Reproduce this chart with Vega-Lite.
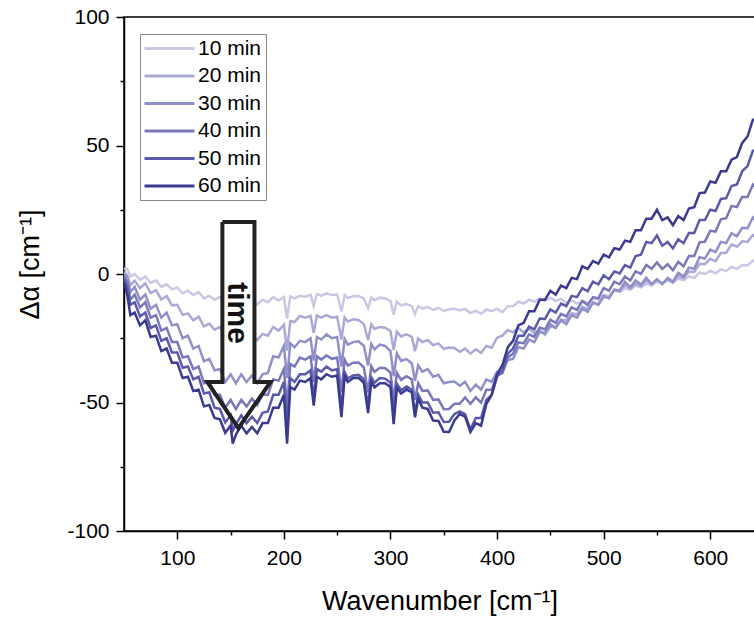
{
  "$schema": "https://vega.github.io/schema/vega-lite/v6.json",
  "width": 631,
  "height": 514,
  "autosize": {"type": "none"},
  "padding": {"left": 124, "top": 17, "right": 0, "bottom": 86},
  "background": "white",
  "config": {
    "view": {"stroke": "black", "strokeWidth": 1.5},
    "font": "Liberation Sans"
  },
  "datasets": {
    "spectra": [
{"t":"10 min","x":50,"y":2},{"t":"10 min","x":53,"y":2},{"t":"10 min","x":56,"y":-1},{"t":"10 min","x":60,"y":0},{"t":"10 min","x":65,"y":-2.2},{"t":"10 min","x":70,"y":-1},{"t":"10 min","x":75,"y":-3.5},{"t":"10 min","x":80,"y":-2.5},{"t":"10 min","x":85,"y":-5},{"t":"10 min","x":90,"y":-4},{"t":"10 min","x":95,"y":-6},{"t":"10 min","x":100,"y":-5.2},{"t":"10 min","x":105,"y":-7.5},{"t":"10 min","x":110,"y":-6.5},{"t":"10 min","x":115,"y":-8.2},{"t":"10 min","x":120,"y":-7},{"t":"10 min","x":125,"y":-9.5},{"t":"10 min","x":130,"y":-8.5},{"t":"10 min","x":135,"y":-10},{"t":"10 min","x":140,"y":-9},{"t":"10 min","x":145,"y":-11.5},{"t":"10 min","x":150,"y":-10},{"t":"10 min","x":155,"y":-11.8},{"t":"10 min","x":160,"y":-10},{"t":"10 min","x":165,"y":-11.5},{"t":"10 min","x":170,"y":-10.2},{"t":"10 min","x":175,"y":-11.8},{"t":"10 min","x":180,"y":-10},{"t":"10 min","x":185,"y":-11},{"t":"10 min","x":190,"y":-9},{"t":"10 min","x":195,"y":-10.3},{"t":"10 min","x":200,"y":-9},{"t":"10 min","x":203,"y":-17.3},{"t":"10 min","x":206,"y":-8.7},{"t":"10 min","x":210,"y":-9.5},{"t":"10 min","x":215,"y":-8.5},{"t":"10 min","x":220,"y":-8.8},{"t":"10 min","x":225,"y":-8},{"t":"10 min","x":228,"y":-12.4},{"t":"10 min","x":231,"y":-7.8},{"t":"10 min","x":235,"y":-8.5},{"t":"10 min","x":240,"y":-7.5},{"t":"10 min","x":245,"y":-8.2},{"t":"10 min","x":250,"y":-8},{"t":"10 min","x":254,"y":-14.6},{"t":"10 min","x":257,"y":-8.2},{"t":"10 min","x":260,"y":-9.3},{"t":"10 min","x":265,"y":-8.7},{"t":"10 min","x":270,"y":-8.6},{"t":"10 min","x":275,"y":-9.5},{"t":"10 min","x":279,"y":-13.3},{"t":"10 min","x":282,"y":-9.1},{"t":"10 min","x":285,"y":-10.2},{"t":"10 min","x":290,"y":-9.2},{"t":"10 min","x":295,"y":-9.5},{"t":"10 min","x":300,"y":-10.5},{"t":"10 min","x":303,"y":-15.8},{"t":"10 min","x":306,"y":-10.7},{"t":"10 min","x":310,"y":-12.2},{"t":"10 min","x":315,"y":-11.7},{"t":"10 min","x":320,"y":-12.5},{"t":"10 min","x":323,"y":-15.6},{"t":"10 min","x":326,"y":-12.5},{"t":"10 min","x":330,"y":-13.5},{"t":"10 min","x":335,"y":-12.8},{"t":"10 min","x":340,"y":-14},{"t":"10 min","x":345,"y":-13.2},{"t":"10 min","x":350,"y":-14.4},{"t":"10 min","x":355,"y":-13.7},{"t":"10 min","x":360,"y":-13.5},{"t":"10 min","x":365,"y":-14.2},{"t":"10 min","x":370,"y":-13.5},{"t":"10 min","x":375,"y":-15.2},{"t":"10 min","x":380,"y":-14.3},{"t":"10 min","x":385,"y":-15.5},{"t":"10 min","x":390,"y":-13.8},{"t":"10 min","x":395,"y":-14.5},{"t":"10 min","x":400,"y":-13.5},{"t":"10 min","x":405,"y":-14.8},{"t":"10 min","x":410,"y":-12.5},{"t":"10 min","x":415,"y":-12.5},{"t":"10 min","x":420,"y":-10.8},{"t":"10 min","x":425,"y":-11.5},{"t":"10 min","x":430,"y":-10},{"t":"10 min","x":435,"y":-10.8},{"t":"10 min","x":440,"y":-9.5},{"t":"10 min","x":445,"y":-10.5},{"t":"10 min","x":450,"y":-9.2},{"t":"10 min","x":455,"y":-10.5},{"t":"10 min","x":460,"y":-9.7},{"t":"10 min","x":465,"y":-11.2},{"t":"10 min","x":470,"y":-10.3},{"t":"10 min","x":475,"y":-11.5},{"t":"10 min","x":480,"y":-10.5},{"t":"10 min","x":485,"y":-11.3},{"t":"10 min","x":490,"y":-9.5},{"t":"10 min","x":495,"y":-10},{"t":"10 min","x":500,"y":-8.2},{"t":"10 min","x":505,"y":-8.5},{"t":"10 min","x":510,"y":-6.5},{"t":"10 min","x":515,"y":-7},{"t":"10 min","x":520,"y":-5.5},{"t":"10 min","x":525,"y":-6.2},{"t":"10 min","x":530,"y":-4.5},{"t":"10 min","x":535,"y":-5.2},{"t":"10 min","x":540,"y":-3.8},{"t":"10 min","x":545,"y":-4.5},{"t":"10 min","x":550,"y":-3},{"t":"10 min","x":555,"y":-3.5},{"t":"10 min","x":560,"y":-2.5},{"t":"10 min","x":565,"y":-3.5},{"t":"10 min","x":570,"y":-1.8},{"t":"10 min","x":575,"y":-2.5},{"t":"10 min","x":580,"y":-1},{"t":"10 min","x":585,"y":-1.5},{"t":"10 min","x":590,"y":0.5},{"t":"10 min","x":595,"y":0},{"t":"10 min","x":600,"y":1.2},{"t":"10 min","x":605,"y":0.3},{"t":"10 min","x":610,"y":1.8},{"t":"10 min","x":615,"y":1.2},{"t":"10 min","x":620,"y":2.8},{"t":"10 min","x":625,"y":2},{"t":"10 min","x":630,"y":3.5},{"t":"10 min","x":635,"y":3.3},{"t":"10 min","x":640,"y":5.2},{"t":"10 min","x":642,"y":4.7},
{"t":"20 min","x":50,"y":1},{"t":"20 min","x":53,"y":-0.6},{"t":"20 min","x":56,"y":-4.4},{"t":"20 min","x":60,"y":-2.6},{"t":"20 min","x":65,"y":-5.5},{"t":"20 min","x":70,"y":-3.6},{"t":"20 min","x":75,"y":-7.4},{"t":"20 min","x":80,"y":-6.3},{"t":"20 min","x":85,"y":-9.9},{"t":"20 min","x":90,"y":-8.6},{"t":"20 min","x":95,"y":-12.2},{"t":"20 min","x":100,"y":-12},{"t":"20 min","x":105,"y":-15.9},{"t":"20 min","x":110,"y":-15.3},{"t":"20 min","x":115,"y":-18},{"t":"20 min","x":120,"y":-16.6},{"t":"20 min","x":125,"y":-20.4},{"t":"20 min","x":130,"y":-19.3},{"t":"20 min","x":135,"y":-21.7},{"t":"20 min","x":140,"y":-20.6},{"t":"20 min","x":145,"y":-24.2},{"t":"20 min","x":150,"y":-22.3},{"t":"20 min","x":155,"y":-24.9},{"t":"20 min","x":160,"y":-22.6},{"t":"20 min","x":165,"y":-25},{"t":"20 min","x":170,"y":-23.5},{"t":"20 min","x":175,"y":-25.7},{"t":"20 min","x":180,"y":-23.3},{"t":"20 min","x":185,"y":-24},{"t":"20 min","x":190,"y":-20.6},{"t":"20 min","x":195,"y":-22},{"t":"20 min","x":200,"y":-19.8},{"t":"20 min","x":203,"y":-29.8},{"t":"20 min","x":206,"y":-18.3},{"t":"20 min","x":210,"y":-18.7},{"t":"20 min","x":215,"y":-16.3},{"t":"20 min","x":220,"y":-17},{"t":"20 min","x":225,"y":-16.3},{"t":"20 min","x":228,"y":-22.9},{"t":"20 min","x":231,"y":-16.1},{"t":"20 min","x":235,"y":-17},{"t":"20 min","x":240,"y":-16},{"t":"20 min","x":245,"y":-17},{"t":"20 min","x":250,"y":-16.6},{"t":"20 min","x":254,"y":-25.5},{"t":"20 min","x":257,"y":-16.9},{"t":"20 min","x":260,"y":-18.5},{"t":"20 min","x":265,"y":-17.6},{"t":"20 min","x":270,"y":-17.9},{"t":"20 min","x":275,"y":-19.5},{"t":"20 min","x":279,"y":-25.7},{"t":"20 min","x":282,"y":-19.6},{"t":"20 min","x":285,"y":-21.4},{"t":"20 min","x":290,"y":-20.6},{"t":"20 min","x":295,"y":-20.9},{"t":"20 min","x":300,"y":-22.2},{"t":"20 min","x":303,"y":-29.6},{"t":"20 min","x":306,"y":-22.5},{"t":"20 min","x":310,"y":-24.3},{"t":"20 min","x":315,"y":-23.5},{"t":"20 min","x":320,"y":-24.5},{"t":"20 min","x":323,"y":-30},{"t":"20 min","x":326,"y":-25},{"t":"20 min","x":330,"y":-26.5},{"t":"20 min","x":335,"y":-25.7},{"t":"20 min","x":340,"y":-27.7},{"t":"20 min","x":345,"y":-27},{"t":"20 min","x":350,"y":-29.1},{"t":"20 min","x":355,"y":-28.6},{"t":"20 min","x":360,"y":-28.8},{"t":"20 min","x":365,"y":-30.3},{"t":"20 min","x":370,"y":-29},{"t":"20 min","x":375,"y":-31},{"t":"20 min","x":380,"y":-29.3},{"t":"20 min","x":385,"y":-30.7},{"t":"20 min","x":390,"y":-28},{"t":"20 min","x":395,"y":-28.7},{"t":"20 min","x":400,"y":-24.8},{"t":"20 min","x":405,"y":-24},{"t":"20 min","x":410,"y":-21.8},{"t":"20 min","x":415,"y":-22.7},{"t":"20 min","x":420,"y":-21},{"t":"20 min","x":425,"y":-22.7},{"t":"20 min","x":430,"y":-21.3},{"t":"20 min","x":435,"y":-23},{"t":"20 min","x":440,"y":-21.8},{"t":"20 min","x":445,"y":-23.7},{"t":"20 min","x":450,"y":-20.5},{"t":"20 min","x":455,"y":-20.7},{"t":"20 min","x":460,"y":-17.8},{"t":"20 min","x":465,"y":-18},{"t":"20 min","x":470,"y":-15.3},{"t":"20 min","x":475,"y":-15.7},{"t":"20 min","x":480,"y":-12.8},{"t":"20 min","x":485,"y":-13.6},{"t":"20 min","x":490,"y":-11.3},{"t":"20 min","x":495,"y":-11.7},{"t":"20 min","x":500,"y":-9},{"t":"20 min","x":505,"y":-9.2},{"t":"20 min","x":510,"y":-6.3},{"t":"20 min","x":515,"y":-6.7},{"t":"20 min","x":520,"y":-4.3},{"t":"20 min","x":525,"y":-5.7},{"t":"20 min","x":530,"y":-3.8},{"t":"20 min","x":535,"y":-4.7},{"t":"20 min","x":540,"y":-2.5},{"t":"20 min","x":545,"y":-3.9},{"t":"20 min","x":550,"y":-2.3},{"t":"20 min","x":555,"y":-3.7},{"t":"20 min","x":560,"y":-2.1},{"t":"20 min","x":565,"y":-3.2},{"t":"20 min","x":570,"y":-0.8},{"t":"20 min","x":575,"y":-1.7},{"t":"20 min","x":580,"y":1},{"t":"20 min","x":585,"y":0.8},{"t":"20 min","x":590,"y":4},{"t":"20 min","x":595,"y":3.8},{"t":"20 min","x":600,"y":5.9},{"t":"20 min","x":605,"y":5},{"t":"20 min","x":610,"y":8.2},{"t":"20 min","x":615,"y":8.3},{"t":"20 min","x":620,"y":11.5},{"t":"20 min","x":625,"y":10.6},{"t":"20 min","x":630,"y":12.7},{"t":"20 min","x":635,"y":12.5},{"t":"20 min","x":640,"y":15.2},{"t":"20 min","x":642,"y":14.5},
{"t":"30 min","x":50,"y":0},{"t":"30 min","x":53,"y":-1},{"t":"30 min","x":56,"y":-7},{"t":"30 min","x":60,"y":-5},{"t":"30 min","x":65,"y":-10},{"t":"30 min","x":70,"y":-8},{"t":"30 min","x":75,"y":-13.5},{"t":"30 min","x":80,"y":-12},{"t":"30 min","x":85,"y":-17},{"t":"30 min","x":90,"y":-15},{"t":"30 min","x":95,"y":-20},{"t":"30 min","x":100,"y":-19.5},{"t":"30 min","x":105,"y":-25},{"t":"30 min","x":110,"y":-24},{"t":"30 min","x":115,"y":-29},{"t":"30 min","x":120,"y":-28},{"t":"30 min","x":125,"y":-34},{"t":"30 min","x":130,"y":-33},{"t":"30 min","x":135,"y":-37.5},{"t":"30 min","x":140,"y":-37},{"t":"30 min","x":145,"y":-42},{"t":"30 min","x":150,"y":-39},{"t":"30 min","x":155,"y":-42.5},{"t":"30 min","x":160,"y":-39},{"t":"30 min","x":165,"y":-42},{"t":"30 min","x":170,"y":-39.5},{"t":"30 min","x":175,"y":-42.5},{"t":"30 min","x":180,"y":-39},{"t":"30 min","x":185,"y":-38.5},{"t":"30 min","x":190,"y":-32},{"t":"30 min","x":195,"y":-32.5},{"t":"30 min","x":200,"y":-28},{"t":"30 min","x":203,"y":-40.5},{"t":"30 min","x":206,"y":-27},{"t":"30 min","x":210,"y":-28.5},{"t":"30 min","x":215,"y":-26},{"t":"30 min","x":220,"y":-26.5},{"t":"30 min","x":225,"y":-25},{"t":"30 min","x":228,"y":-33.7},{"t":"30 min","x":231,"y":-24.5},{"t":"30 min","x":235,"y":-25.5},{"t":"30 min","x":240,"y":-23.5},{"t":"30 min","x":245,"y":-25},{"t":"30 min","x":250,"y":-24.5},{"t":"30 min","x":254,"y":-36},{"t":"30 min","x":257,"y":-25.3},{"t":"30 min","x":260,"y":-27.5},{"t":"30 min","x":265,"y":-26.5},{"t":"30 min","x":270,"y":-26.2},{"t":"30 min","x":275,"y":-27.9},{"t":"30 min","x":279,"y":-35.6},{"t":"30 min","x":282,"y":-27.2},{"t":"30 min","x":285,"y":-29.3},{"t":"30 min","x":290,"y":-27.5},{"t":"30 min","x":295,"y":-28},{"t":"30 min","x":300,"y":-30},{"t":"30 min","x":303,"y":-39.8},{"t":"30 min","x":306,"y":-30.9},{"t":"30 min","x":310,"y":-33.8},{"t":"30 min","x":315,"y":-33.1},{"t":"30 min","x":320,"y":-34.8},{"t":"30 min","x":323,"y":-41.5},{"t":"30 min","x":326,"y":-35.5},{"t":"30 min","x":330,"y":-38},{"t":"30 min","x":335,"y":-37},{"t":"30 min","x":340,"y":-40},{"t":"30 min","x":345,"y":-39.2},{"t":"30 min","x":350,"y":-42.5},{"t":"30 min","x":355,"y":-42},{"t":"30 min","x":360,"y":-41.8},{"t":"30 min","x":365,"y":-43.5},{"t":"30 min","x":370,"y":-42},{"t":"30 min","x":375,"y":-45.5},{"t":"30 min","x":380,"y":-43},{"t":"30 min","x":385,"y":-45},{"t":"30 min","x":390,"y":-41},{"t":"30 min","x":395,"y":-42},{"t":"30 min","x":400,"y":-38},{"t":"30 min","x":405,"y":-38.5},{"t":"30 min","x":410,"y":-33.5},{"t":"30 min","x":415,"y":-33},{"t":"30 min","x":420,"y":-28.5},{"t":"30 min","x":425,"y":-29},{"t":"30 min","x":430,"y":-25.5},{"t":"30 min","x":435,"y":-26.5},{"t":"30 min","x":440,"y":-22.5},{"t":"30 min","x":445,"y":-23},{"t":"30 min","x":450,"y":-19.5},{"t":"30 min","x":455,"y":-21},{"t":"30 min","x":460,"y":-18},{"t":"30 min","x":465,"y":-19.5},{"t":"30 min","x":470,"y":-16},{"t":"30 min","x":475,"y":-17},{"t":"30 min","x":480,"y":-13.5},{"t":"30 min","x":485,"y":-14.7},{"t":"30 min","x":490,"y":-11},{"t":"30 min","x":495,"y":-12},{"t":"30 min","x":500,"y":-8.5},{"t":"30 min","x":505,"y":-9.5},{"t":"30 min","x":510,"y":-6},{"t":"30 min","x":515,"y":-6.5},{"t":"30 min","x":520,"y":-3},{"t":"30 min","x":525,"y":-5.2},{"t":"30 min","x":530,"y":-2.5},{"t":"30 min","x":535,"y":-4.2},{"t":"30 min","x":540,"y":-1.5},{"t":"30 min","x":545,"y":-4},{"t":"30 min","x":550,"y":-2},{"t":"30 min","x":555,"y":-4},{"t":"30 min","x":560,"y":-1.5},{"t":"30 min","x":565,"y":-3},{"t":"30 min","x":570,"y":0.5},{"t":"30 min","x":575,"y":-1},{"t":"30 min","x":580,"y":2.5},{"t":"30 min","x":585,"y":2},{"t":"30 min","x":590,"y":6.5},{"t":"30 min","x":595,"y":6},{"t":"30 min","x":600,"y":9.5},{"t":"30 min","x":605,"y":8.5},{"t":"30 min","x":610,"y":12.5},{"t":"30 min","x":615,"y":12},{"t":"30 min","x":620,"y":15.9},{"t":"30 min","x":625,"y":14.7},{"t":"30 min","x":630,"y":18},{"t":"30 min","x":635,"y":17.8},{"t":"30 min","x":640,"y":22},{"t":"30 min","x":642,"y":21},
{"t":"40 min","x":50,"y":-1},{"t":"40 min","x":53,"y":-3},{"t":"40 min","x":56,"y":-10},{"t":"40 min","x":60,"y":-8},{"t":"40 min","x":65,"y":-13},{"t":"40 min","x":70,"y":-11},{"t":"40 min","x":75,"y":-17},{"t":"40 min","x":80,"y":-16},{"t":"40 min","x":85,"y":-22},{"t":"40 min","x":90,"y":-21},{"t":"40 min","x":95,"y":-26.5},{"t":"40 min","x":100,"y":-26.5},{"t":"40 min","x":105,"y":-32.5},{"t":"40 min","x":110,"y":-32},{"t":"40 min","x":115,"y":-37},{"t":"40 min","x":120,"y":-36},{"t":"40 min","x":125,"y":-42.5},{"t":"40 min","x":130,"y":-42},{"t":"40 min","x":135,"y":-47},{"t":"40 min","x":140,"y":-47},{"t":"40 min","x":145,"y":-52},{"t":"40 min","x":150,"y":-49},{"t":"40 min","x":155,"y":-52.5},{"t":"40 min","x":160,"y":-49},{"t":"40 min","x":165,"y":-51.5},{"t":"40 min","x":170,"y":-48.5},{"t":"40 min","x":175,"y":-51},{"t":"40 min","x":180,"y":-47},{"t":"40 min","x":185,"y":-47},{"t":"40 min","x":190,"y":-41},{"t":"40 min","x":195,"y":-41.5},{"t":"40 min","x":200,"y":-37},{"t":"40 min","x":203,"y":-52},{"t":"40 min","x":206,"y":-35},{"t":"40 min","x":210,"y":-36},{"t":"40 min","x":215,"y":-32.5},{"t":"40 min","x":220,"y":-33.3},{"t":"40 min","x":225,"y":-32},{"t":"40 min","x":228,"y":-42},{"t":"40 min","x":231,"y":-32},{"t":"40 min","x":235,"y":-33.3},{"t":"40 min","x":240,"y":-31.7},{"t":"40 min","x":245,"y":-33},{"t":"40 min","x":250,"y":-32.5},{"t":"40 min","x":254,"y":-46},{"t":"40 min","x":257,"y":-33.3},{"t":"40 min","x":260,"y":-35.6},{"t":"40 min","x":265,"y":-34.5},{"t":"40 min","x":270,"y":-34.4},{"t":"40 min","x":275,"y":-36.3},{"t":"40 min","x":279,"y":-46.1},{"t":"40 min","x":282,"y":-35.9},{"t":"40 min","x":285,"y":-38.1},{"t":"40 min","x":290,"y":-36.5},{"t":"40 min","x":295,"y":-36.7},{"t":"40 min","x":300,"y":-38.3},{"t":"40 min","x":303,"y":-49.6},{"t":"40 min","x":306,"y":-38.5},{"t":"40 min","x":310,"y":-41.2},{"t":"40 min","x":315,"y":-39.8},{"t":"40 min","x":320,"y":-41},{"t":"40 min","x":323,"y":-49},{"t":"40 min","x":326,"y":-42.5},{"t":"40 min","x":330,"y":-45.5},{"t":"40 min","x":335,"y":-45.3},{"t":"40 min","x":340,"y":-49},{"t":"40 min","x":345,"y":-48.8},{"t":"40 min","x":350,"y":-52.6},{"t":"40 min","x":355,"y":-52.5},{"t":"40 min","x":360,"y":-50.5},{"t":"40 min","x":365,"y":-50.5},{"t":"40 min","x":370,"y":-48},{"t":"40 min","x":375,"y":-50.5},{"t":"40 min","x":380,"y":-48},{"t":"40 min","x":385,"y":-50},{"t":"40 min","x":390,"y":-45},{"t":"40 min","x":395,"y":-45},{"t":"40 min","x":400,"y":-39.5},{"t":"40 min","x":405,"y":-38.5},{"t":"40 min","x":410,"y":-32.5},{"t":"40 min","x":415,"y":-31},{"t":"40 min","x":420,"y":-26.5},{"t":"40 min","x":425,"y":-27},{"t":"40 min","x":430,"y":-23.5},{"t":"40 min","x":435,"y":-24.5},{"t":"40 min","x":440,"y":-20.8},{"t":"40 min","x":445,"y":-21.6},{"t":"40 min","x":450,"y":-17.8},{"t":"40 min","x":455,"y":-19},{"t":"40 min","x":460,"y":-15.5},{"t":"40 min","x":465,"y":-16.5},{"t":"40 min","x":470,"y":-13},{"t":"40 min","x":475,"y":-14},{"t":"40 min","x":480,"y":-10.5},{"t":"40 min","x":485,"y":-12.1},{"t":"40 min","x":490,"y":-9},{"t":"40 min","x":495,"y":-9.5},{"t":"40 min","x":500,"y":-5.5},{"t":"40 min","x":505,"y":-6.5},{"t":"40 min","x":510,"y":-3},{"t":"40 min","x":515,"y":-4},{"t":"40 min","x":520,"y":-1},{"t":"40 min","x":525,"y":-2.5},{"t":"40 min","x":530,"y":1},{"t":"40 min","x":535,"y":0},{"t":"40 min","x":540,"y":3.5},{"t":"40 min","x":545,"y":2},{"t":"40 min","x":550,"y":4.5},{"t":"40 min","x":555,"y":2},{"t":"40 min","x":560,"y":3.8},{"t":"40 min","x":565,"y":1.5},{"t":"40 min","x":570,"y":4.7},{"t":"40 min","x":575,"y":3},{"t":"40 min","x":580,"y":7},{"t":"40 min","x":585,"y":7},{"t":"40 min","x":590,"y":12.3},{"t":"40 min","x":595,"y":12.6},{"t":"40 min","x":600,"y":16.8},{"t":"40 min","x":605,"y":16.5},{"t":"40 min","x":610,"y":21.3},{"t":"40 min","x":615,"y":21.7},{"t":"40 min","x":620,"y":26.5},{"t":"40 min","x":625,"y":26},{"t":"40 min","x":630,"y":30},{"t":"40 min","x":635,"y":30},{"t":"40 min","x":640,"y":34.8},{"t":"40 min","x":642,"y":34},
{"t":"50 min","x":50,"y":-2},{"t":"50 min","x":53,"y":-5},{"t":"50 min","x":56,"y":-12},{"t":"50 min","x":60,"y":-11},{"t":"50 min","x":65,"y":-16.5},{"t":"50 min","x":70,"y":-15},{"t":"50 min","x":75,"y":-21},{"t":"50 min","x":80,"y":-20},{"t":"50 min","x":85,"y":-26},{"t":"50 min","x":90,"y":-25},{"t":"50 min","x":95,"y":-30.5},{"t":"50 min","x":100,"y":-30.5},{"t":"50 min","x":105,"y":-36.5},{"t":"50 min","x":110,"y":-36},{"t":"50 min","x":115,"y":-41},{"t":"50 min","x":120,"y":-40},{"t":"50 min","x":125,"y":-46.5},{"t":"50 min","x":130,"y":-46},{"t":"50 min","x":135,"y":-52},{"t":"50 min","x":140,"y":-52.5},{"t":"50 min","x":145,"y":-57.8},{"t":"50 min","x":150,"y":-55},{"t":"50 min","x":152,"y":-61},{"t":"50 min","x":155,"y":-58.5},{"t":"50 min","x":160,"y":-55},{"t":"50 min","x":165,"y":-58},{"t":"50 min","x":170,"y":-55.5},{"t":"50 min","x":175,"y":-58},{"t":"50 min","x":180,"y":-54},{"t":"50 min","x":185,"y":-53.5},{"t":"50 min","x":190,"y":-47},{"t":"50 min","x":195,"y":-47},{"t":"50 min","x":200,"y":-42},{"t":"50 min","x":203,"y":-59.2},{"t":"50 min","x":206,"y":-40.5},{"t":"50 min","x":210,"y":-42},{"t":"50 min","x":215,"y":-39},{"t":"50 min","x":220,"y":-39},{"t":"50 min","x":225,"y":-37.5},{"t":"50 min","x":228,"y":-48.2},{"t":"50 min","x":231,"y":-37},{"t":"50 min","x":235,"y":-38},{"t":"50 min","x":240,"y":-36},{"t":"50 min","x":245,"y":-37.5},{"t":"50 min","x":250,"y":-37},{"t":"50 min","x":254,"y":-52.8},{"t":"50 min","x":257,"y":-38.2},{"t":"50 min","x":260,"y":-40.6},{"t":"50 min","x":265,"y":-39.5},{"t":"50 min","x":270,"y":-39.2},{"t":"50 min","x":275,"y":-40.9},{"t":"50 min","x":279,"y":-51.6},{"t":"50 min","x":282,"y":-40.2},{"t":"50 min","x":285,"y":-42.3},{"t":"50 min","x":290,"y":-40.5},{"t":"50 min","x":295,"y":-40.7},{"t":"50 min","x":300,"y":-42.3},{"t":"50 min","x":303,"y":-54.8},{"t":"50 min","x":306,"y":-42.7},{"t":"50 min","x":310,"y":-45.2},{"t":"50 min","x":315,"y":-43.8},{"t":"50 min","x":320,"y":-45},{"t":"50 min","x":323,"y":-54.3},{"t":"50 min","x":326,"y":-46.9},{"t":"50 min","x":330,"y":-50},{"t":"50 min","x":335,"y":-50},{"t":"50 min","x":340,"y":-54},{"t":"50 min","x":345,"y":-53.8},{"t":"50 min","x":350,"y":-57.6},{"t":"50 min","x":355,"y":-57.5},{"t":"50 min","x":360,"y":-54.5},{"t":"50 min","x":365,"y":-53.5},{"t":"50 min","x":370,"y":-54.5},{"t":"50 min","x":375,"y":-60.5},{"t":"50 min","x":380,"y":-56},{"t":"50 min","x":385,"y":-56},{"t":"50 min","x":390,"y":-49},{"t":"50 min","x":395,"y":-47},{"t":"50 min","x":400,"y":-40},{"t":"50 min","x":405,"y":-37.5},{"t":"50 min","x":410,"y":-31},{"t":"50 min","x":415,"y":-29},{"t":"50 min","x":420,"y":-24},{"t":"50 min","x":425,"y":-24},{"t":"50 min","x":430,"y":-20.5},{"t":"50 min","x":435,"y":-21.5},{"t":"50 min","x":440,"y":-17.3},{"t":"50 min","x":445,"y":-17.5},{"t":"50 min","x":450,"y":-13.8},{"t":"50 min","x":455,"y":-15},{"t":"50 min","x":460,"y":-11.5},{"t":"50 min","x":465,"y":-12.5},{"t":"50 min","x":470,"y":-8.5},{"t":"50 min","x":475,"y":-9},{"t":"50 min","x":480,"y":-5.5},{"t":"50 min","x":485,"y":-6.7},{"t":"50 min","x":490,"y":-3},{"t":"50 min","x":495,"y":-4},{"t":"50 min","x":500,"y":-0.5},{"t":"50 min","x":505,"y":-2},{"t":"50 min","x":510,"y":1},{"t":"50 min","x":515,"y":0.2},{"t":"50 min","x":520,"y":3.5},{"t":"50 min","x":525,"y":2.5},{"t":"50 min","x":530,"y":7},{"t":"50 min","x":535,"y":7.5},{"t":"50 min","x":540,"y":12.5},{"t":"50 min","x":545,"y":12},{"t":"50 min","x":550,"y":15},{"t":"50 min","x":555,"y":11},{"t":"50 min","x":560,"y":12.5},{"t":"50 min","x":565,"y":10},{"t":"50 min","x":570,"y":13.5},{"t":"50 min","x":575,"y":12},{"t":"50 min","x":580,"y":16},{"t":"50 min","x":585,"y":16},{"t":"50 min","x":590,"y":21},{"t":"50 min","x":595,"y":21},{"t":"50 min","x":600,"y":25},{"t":"50 min","x":605,"y":24.5},{"t":"50 min","x":610,"y":29.2},{"t":"50 min","x":615,"y":29.5},{"t":"50 min","x":620,"y":34.2},{"t":"50 min","x":625,"y":34.8},{"t":"50 min","x":630,"y":40},{"t":"50 min","x":635,"y":42},{"t":"50 min","x":640,"y":48},{"t":"50 min","x":642,"y":48},
{"t":"60 min","x":50,"y":-3},{"t":"60 min","x":53,"y":-8},{"t":"60 min","x":56,"y":-16},{"t":"60 min","x":60,"y":-15},{"t":"60 min","x":65,"y":-20},{"t":"60 min","x":70,"y":-18},{"t":"60 min","x":75,"y":-24.5},{"t":"60 min","x":80,"y":-24},{"t":"60 min","x":85,"y":-30},{"t":"60 min","x":90,"y":-29},{"t":"60 min","x":95,"y":-34.5},{"t":"60 min","x":100,"y":-34.5},{"t":"60 min","x":105,"y":-40.5},{"t":"60 min","x":110,"y":-40},{"t":"60 min","x":115,"y":-45.5},{"t":"60 min","x":120,"y":-45},{"t":"60 min","x":125,"y":-51.5},{"t":"60 min","x":130,"y":-51},{"t":"60 min","x":135,"y":-56},{"t":"60 min","x":140,"y":-56.5},{"t":"60 min","x":145,"y":-61.8},{"t":"60 min","x":150,"y":-59},{"t":"60 min","x":152,"y":-66},{"t":"60 min","x":155,"y":-62.5},{"t":"60 min","x":160,"y":-59},{"t":"60 min","x":165,"y":-62},{"t":"60 min","x":170,"y":-59.5},{"t":"60 min","x":175,"y":-62},{"t":"60 min","x":180,"y":-58},{"t":"60 min","x":185,"y":-58},{"t":"60 min","x":190,"y":-52},{"t":"60 min","x":195,"y":-52},{"t":"60 min","x":200,"y":-47},{"t":"60 min","x":203,"y":-66},{"t":"60 min","x":206,"y":-44},{"t":"60 min","x":210,"y":-45},{"t":"60 min","x":215,"y":-41.5},{"t":"60 min","x":220,"y":-42},{"t":"60 min","x":225,"y":-40.5},{"t":"60 min","x":228,"y":-51.2},{"t":"60 min","x":231,"y":-40},{"t":"60 min","x":235,"y":-41},{"t":"60 min","x":240,"y":-39},{"t":"60 min","x":245,"y":-40},{"t":"60 min","x":250,"y":-39.5},{"t":"60 min","x":254,"y":-55.7},{"t":"60 min","x":257,"y":-39.8},{"t":"60 min","x":260,"y":-42},{"t":"60 min","x":265,"y":-40.5},{"t":"60 min","x":270,"y":-40.4},{"t":"60 min","x":275,"y":-42.3},{"t":"60 min","x":279,"y":-54.1},{"t":"60 min","x":282,"y":-41.9},{"t":"60 min","x":285,"y":-44.1},{"t":"60 min","x":290,"y":-42.5},{"t":"60 min","x":295,"y":-42.5},{"t":"60 min","x":300,"y":-44},{"t":"60 min","x":303,"y":-58.4},{"t":"60 min","x":306,"y":-44.2},{"t":"60 min","x":310,"y":-46.5},{"t":"60 min","x":315,"y":-45},{"t":"60 min","x":320,"y":-46},{"t":"60 min","x":323,"y":-55.8},{"t":"60 min","x":326,"y":-48.5},{"t":"60 min","x":330,"y":-52},{"t":"60 min","x":335,"y":-52.5},{"t":"60 min","x":340,"y":-57},{"t":"60 min","x":345,"y":-57.2},{"t":"60 min","x":350,"y":-61.4},{"t":"60 min","x":355,"y":-61.5},{"t":"60 min","x":360,"y":-57},{"t":"60 min","x":365,"y":-54.5},{"t":"60 min","x":370,"y":-55.5},{"t":"60 min","x":375,"y":-61.5},{"t":"60 min","x":380,"y":-58},{"t":"60 min","x":385,"y":-59},{"t":"60 min","x":390,"y":-50.5},{"t":"60 min","x":395,"y":-47},{"t":"60 min","x":400,"y":-39},{"t":"60 min","x":405,"y":-35.5},{"t":"60 min","x":410,"y":-28.5},{"t":"60 min","x":415,"y":-26},{"t":"60 min","x":420,"y":-20},{"t":"60 min","x":425,"y":-19},{"t":"60 min","x":430,"y":-14.5},{"t":"60 min","x":435,"y":-14.5},{"t":"60 min","x":440,"y":-10},{"t":"60 min","x":445,"y":-10},{"t":"60 min","x":450,"y":-6.5},{"t":"60 min","x":455,"y":-8},{"t":"60 min","x":460,"y":-4.5},{"t":"60 min","x":465,"y":-5.5},{"t":"60 min","x":470,"y":-1.5},{"t":"60 min","x":475,"y":-2},{"t":"60 min","x":480,"y":3},{"t":"60 min","x":485,"y":2},{"t":"60 min","x":490,"y":5},{"t":"60 min","x":495,"y":4},{"t":"60 min","x":500,"y":7.5},{"t":"60 min","x":505,"y":6.5},{"t":"60 min","x":510,"y":10},{"t":"60 min","x":515,"y":9.5},{"t":"60 min","x":520,"y":13},{"t":"60 min","x":525,"y":12.5},{"t":"60 min","x":530,"y":17},{"t":"60 min","x":535,"y":17},{"t":"60 min","x":540,"y":21.5},{"t":"60 min","x":545,"y":21.5},{"t":"60 min","x":550,"y":25},{"t":"60 min","x":555,"y":21},{"t":"60 min","x":560,"y":22},{"t":"60 min","x":565,"y":19},{"t":"60 min","x":570,"y":22.5},{"t":"60 min","x":575,"y":21},{"t":"60 min","x":580,"y":25.5},{"t":"60 min","x":585,"y":26},{"t":"60 min","x":590,"y":31.5},{"t":"60 min","x":595,"y":31.7},{"t":"60 min","x":600,"y":36},{"t":"60 min","x":605,"y":35.5},{"t":"60 min","x":610,"y":40},{"t":"60 min","x":615,"y":40},{"t":"60 min","x":620,"y":44.5},{"t":"60 min","x":625,"y":45.5},{"t":"60 min","x":630,"y":51},{"t":"60 min","x":635,"y":53.5},{"t":"60 min","x":640,"y":60},{"t":"60 min","x":642,"y":60}
    ],
    "arrow": [
      {"i":1,"x":142.3,"y":20.2},{"i":2,"x":172.4,"y":20.2},{"i":3,"x":172.4,"y":-42},{"i":4,"x":187.5,"y":-42},{"i":5,"x":157.3,"y":-60},{"i":6,"x":128.2,"y":-42},{"i":7,"x":142.3,"y":-42},{"i":8,"x":142.3,"y":20.2}
    ]
  },
  "encoding": {
    "x": {
      "field": "x", "type": "quantitative",
      "scale": {"domain": [50, 642], "nice": false, "zero": false},
      "axis": {
        "title": "Wavenumber [cm⁻¹]",
        "values": [100,150,200,250,300,350,400,450,500,550,600],
        "labelExpr": "datum.value % 100 == 0 ? '' + datum.value : ''",
        "tickSize": {"condition": {"test": "datum.value % 100 == 0", "value": 8}, "value": 4},
        "grid": false,
        "domainColor": "black", "domainWidth": 1.5,
        "tickColor": "black", "tickWidth": 1.5,
        "labelFont": "Liberation Sans", "labelFontSize": 21, "labelColor": "black", "labelPadding": 8,
        "labelFlush": false, "labelOverlap": false,
        "titleFont": "Liberation Sans", "titleFontSize": 27, "titleFontWeight": "normal", "titleColor": "black", "titlePadding": 20
      }
    },
    "y": {
      "field": "y", "type": "quantitative",
      "scale": {"domain": [-100, 100], "nice": false, "zero": false},
      "axis": {
        "title": "Δα [cm⁻¹]",
        "values": [-100,-75,-50,-25,0,25,50,75,100],
        "labelExpr": "datum.value % 50 == 0 ? '' + datum.value : ''",
        "tickSize": {"condition": {"test": "datum.value % 50 == 0", "value": 8}, "value": 4},
        "grid": false,
        "domainColor": "black", "domainWidth": 1.5,
        "tickColor": "black", "tickWidth": 1.5,
        "labelFont": "Liberation Sans", "labelFontSize": 21, "labelColor": "black", "labelPadding": 7,
        "labelFlush": false, "labelOverlap": false,
        "titleFont": "Liberation Sans", "titleFontSize": 27, "titleFontWeight": "normal", "titleColor": "black", "titlePadding": 22,
        "titleY": 247
      }
    }
  },
  "layer": [
    {
      "data": {"name": "spectra"},
      "mark": {"type": "line", "strokeWidth": 2.5, "clip": true},
      "encoding": {
        "color": {
          "field": "t", "type": "nominal",
          "scale": {
            "domain": ["10 min","20 min","30 min","40 min","50 min","60 min"],
            "range": ["#c8c8e4","#a9a9d5","#9090c9","#7878bb","#5a5aaa","#3a3a90"]
          },
          "legend": {
            "orient": "none", "legendX": 16, "legendY": 17,
            "title": null,
            "symbolType": "M-2,0H8", "symbolSize": 100, "symbolStrokeWidth": 3,
            "labelFont": "Liberation Sans", "labelFontSize": 21, "labelColor": "black",
            "labelOffset": 33, "padding": 4, "rowPadding": 5.5,
            "strokeColor": "#888", "fillColor": "white"
          }
        }
      }
    },
    {
      "data": {"values": [{"y": 0}]},
      "mark": {"type": "rule", "color": "black", "strokeWidth": 1.5},
      "encoding": {"y": {"field": "y", "type": "quantitative"}}
    },
    {
      "data": {"values": [{"x": 143.5, "x2": 171.2, "y": 1.5, "y2": -31}]},
      "mark": {"type": "rect", "color": "white"},
      "encoding": {
        "x2": {"field": "x2"},
        "y2": {"field": "y2"}
      }
    },
    {
      "data": {"name": "arrow"},
      "mark": {"type": "line", "color": "#222", "strokeWidth": 4, "strokeJoin": "miter"},
      "encoding": {"order": {"field": "i", "type": "quantitative"}}
    },
    {
      "data": {"values": [{"x": 156.4, "y": -15.2, "label": "time"}]},
      "mark": {"type": "text", "angle": 90, "fontWeight": "bold", "fontSize": 30, "font": "Liberation Sans", "color": "#111", "align": "center", "baseline": "middle"},
      "encoding": {"text": {"field": "label"}}
    }
  ]
}
